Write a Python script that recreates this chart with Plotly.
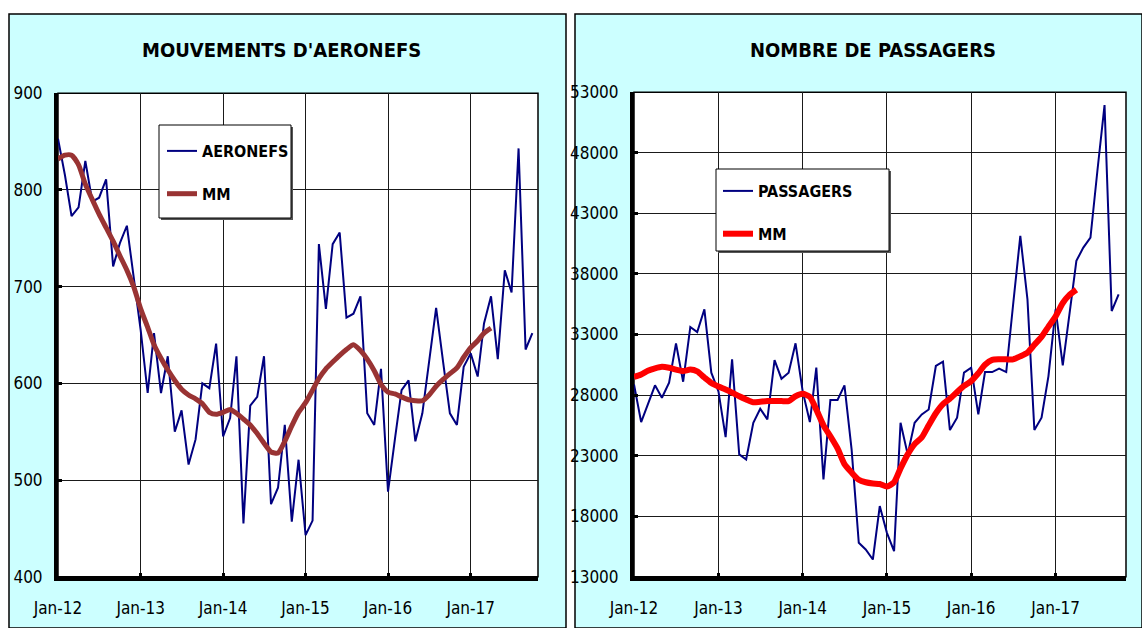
import pandas as pd
import plotly.graph_objects as go

W, H = 1142, 628

months = pd.date_range("2012-01-01", periods=70, freq="MS")

aeronefs = [853, 815, 773, 782, 830, 788, 792, 811, 721, 745, 763, 712,
            655, 590, 652, 590, 628, 550, 572, 516, 542, 600, 595, 641,
            545, 564, 628, 455, 577, 586, 628, 475, 492, 557, 457, 521,
            443, 458, 744, 677, 744, 756, 668, 672, 690, 569, 557, 615,
            488, 543, 593, 603, 540, 569, 621, 678, 622, 569, 557, 617,
            631, 607, 662, 690, 625, 717, 694, 843, 635, 652]

mm_aeronefs = [832, 836, 836, 826, 806, 790, 775, 761, 747, 732, 717, 700,
               677, 658, 640, 626, 614, 603, 594, 588, 584, 579, 570, 568,
               570, 573, 569, 563, 557, 548, 538, 529, 528, 540, 556, 570,
               580, 593, 605, 615, 622, 629, 635, 640, 634, 625, 613, 599,
               591, 589, 586, 583, 582, 582, 588, 597, 604, 610, 616, 627,
               637, 644, 652, 657]

passagers = [28880, 25770, 27230, 28800, 27780, 29020, 32270, 29100, 33620, 33200, 35080, 29850,
             28300, 24530, 30950, 23100, 22680, 25710, 26870, 25990, 30890, 29350, 29850, 32270,
             28300, 25770, 30260, 21030, 27590, 27590, 28800, 23500, 15800, 15250, 14420, 18830,
             16620, 15110, 25710, 23100, 25710, 26400, 26810, 30400, 30760, 25110, 26130, 29850,
             30260, 26400, 29900, 29900, 30180, 29900, 35500, 41140, 35900, 25110, 26130, 29570,
             35080, 30450, 34530, 39080, 40180, 41000, 46500, 51940, 34940, 36320]

mm_passagers = [29500, 29700, 30000, 30200, 30330, 30250, 30100, 29980, 30100, 29950, 29450, 29000,
                28700, 28450, 28200, 27900, 27640, 27400, 27450, 27500, 27500, 27500, 27500, 27900,
                28100, 27850, 26800, 25500, 24600, 23600, 22300, 21600, 21000, 20800, 20700, 20650,
                20450, 20800, 21950, 23100, 23950, 24500, 25500, 26500, 27250, 27700, 28250, 28750,
                29150, 29800, 30500, 30900, 30950, 30950, 30950, 31200, 31500, 32150, 32800, 33650,
                34500, 35600, 36250, 36700]

titles = ["MOUVEMENTS D'AERONEFS", "NOMBRE DE PASSAGERS"]
left_ticks = [400, 500, 600, 700, 800, 900]
right_ticks = [13000, 18000, 23000, 28000, 33000, 38000, 43000, 48000, 53000]

FONT = "DejaVu Sans Condensed, Liberation Sans Narrow, Arial Narrow, sans-serif"


def px(x):
    return x / W


def py(y):
    return 1 - y / H


fig = go.Figure()

fig.add_trace(go.Scatter(x=months, y=aeronefs, mode="lines", name="AERONEFS",
                         line=dict(color="#000080", width=2), xaxis="x", yaxis="y",
                         legend="legend", legendgroup="a1"))
fig.add_trace(go.Scatter(x=months[:len(mm_aeronefs)], y=mm_aeronefs, mode="lines", name="MM",
                         line=dict(color="#993333", width=5, shape="spline", smoothing=0.6),
                         xaxis="x", yaxis="y", legend="legend", legendgroup="a2"))
fig.add_trace(go.Scatter(x=months, y=passagers, mode="lines", name="PASSAGERS",
                         line=dict(color="#000080", width=2), xaxis="x2", yaxis="y2",
                         legend="legend2", legendgroup="b1"))
fig.add_trace(go.Scatter(x=months[:len(mm_passagers)], y=mm_passagers, mode="lines", name="MM",
                         line=dict(color="#FF0000", width=6, shape="spline", smoothing=0.6),
                         xaxis="x2", yaxis="y2", legend="legend2", legendgroup="b2"))

axis_common = dict(showgrid=True, gridcolor="#1a1a1a", gridwidth=1.4, zeroline=False,
                   showline=True, linecolor="black", linewidth=4, ticks="inside",
                   ticklen=4, tickwidth=3, tickcolor="black", automargin=False,
                   tickfont=dict(family=FONT, size=17, color="black"))

xcommon = dict(axis_common, type="date", dtick="M12", tick0="2012-01-01",
               tickformat="%b-%y", ticklabelstandoff=13)

fig.update_layout(
    width=W, height=H, autosize=False,
    margin=dict(l=0, r=0, t=0, b=0, pad=0),
    paper_bgcolor="white", plot_bgcolor="white",
    showlegend=True,
    xaxis=dict(xcommon, domain=[px(58), px(538)], anchor="y",
               range=["2012-01-01", "2017-10-26"]),
    yaxis=dict(axis_common, domain=[py(576.7), py(93.3)], anchor="x",
               range=[400, 900], tickvals=left_ticks, tickformat="d", ticklabelstandoff=8),
    xaxis2=dict(xcommon, domain=[px(634), px(1126)], anchor="y2",
                range=["2012-01-01", "2017-11-02"]),
    yaxis2=dict(axis_common, domain=[py(576.7), py(92.3)], anchor="x2",
                range=[13000, 53000], tickvals=right_ticks, tickformat="d", ticklabelstandoff=8),
    legend=dict(x=px(162), y=py(134), xanchor="left", yanchor="top",
                bgcolor="rgba(0,0,0,0)", borderwidth=0, tracegroupgap=19,
                font=dict(family=FONT, size=16, color="black", weight="bold")),
    legend2=dict(x=px(718), y=py(174), xanchor="left", yanchor="top",
                 bgcolor="rgba(0,0,0,0)", borderwidth=0, tracegroupgap=19,
                 font=dict(family=FONT, size=16, color="black", weight="bold")),
)

shapes = [
    # panels
    dict(type="rect", xref="paper", yref="paper", x0=px(9), x1=px(566), y0=py(628), y1=py(14),
         fillcolor="#CCFFFF", line=dict(color="black", width=1.5), layer="below"),
    dict(type="rect", xref="paper", yref="paper", x0=px(575), x1=px(1142), y0=py(628), y1=py(14),
         fillcolor="#CCFFFF", line=dict(color="black", width=1.5), layer="below"),
    # plot areas
    dict(type="rect", xref="paper", yref="paper", x0=px(58), x1=px(538), y0=py(576.7), y1=py(93.3),
         fillcolor="white", line=dict(color="black", width=1.5), layer="below"),
    dict(type="rect", xref="paper", yref="paper", x0=px(634), x1=px(1126), y0=py(576.7), y1=py(92.3),
         fillcolor="white", line=dict(color="black", width=1.5), layer="below"),
    # legend boxes (shadow + box)
    dict(type="rect", xref="paper", yref="paper", x0=px(161), x1=px(293), y0=py(220), y1=py(127),
         fillcolor="#555555", line=dict(width=0), layer="above"),
    dict(type="rect", xref="paper", yref="paper", x0=px(159), x1=px(291), y0=py(218), y1=py(125),
         fillcolor="white", line=dict(color="black", width=1), layer="above"),
    dict(type="rect", xref="paper", yref="paper", x0=px(718), x1=px(891), y0=py(253), y1=py(171),
         fillcolor="#555555", line=dict(width=0), layer="above"),
    dict(type="rect", xref="paper", yref="paper", x0=px(716), x1=px(889), y0=py(251), y1=py(169),
         fillcolor="white", line=dict(color="black", width=1), layer="above"),
]
fig.update_layout(shapes=shapes)

fig.add_annotation(text=titles[0], x=px(281), y=py(50), xref="paper", yref="paper",
                   showarrow=False, xanchor="center", yanchor="middle",
                   font=dict(family=FONT, size=20, color="black", weight="bold"))
fig.add_annotation(text=titles[1], x=px(873), y=py(50), xref="paper", yref="paper",
                   showarrow=False, xanchor="center", yanchor="middle",
                   font=dict(family=FONT, size=20, color="black", weight="bold"))

fig.write_html("out.html", config={"displayModeBar": False},
               post_script="document.body.style.margin='0';document.body.style.overflow='hidden';")
